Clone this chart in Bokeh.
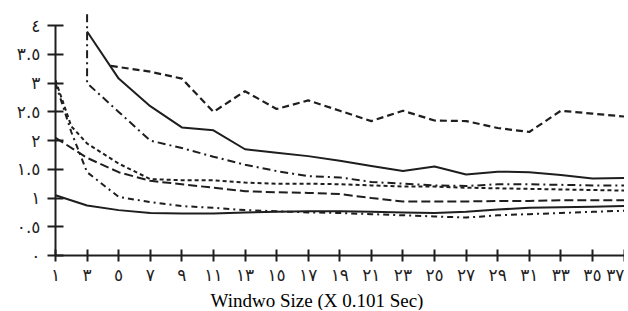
from bokeh.plotting import figure
from bokeh.models import Range1d, FixedTicker, Title
from bokeh.embed import file_html
from bokeh.resources import INLINE

# ---- data ----
x_ticks = [1, 3, 5, 7, 9, 11, 13, 15, 17, 19, 21, 23, 25, 27, 29, 31, 33, 35, 37]
x_labels = ["١", "٣", "٥", "٧", "٩", "١١", "١٣", "١٥", "١٧", "١٩", "٢١", "٢٣",
            "٢٥", "٢٧", "٢٩", "٣١", "٣٣", "٣٥", "٣٧"]
y_ticks = [0, 0.5, 1, 1.5, 2, 2.5, 3, 3.5, 4]
y_labels = ["٠", "٠.٥", "١", "١.٥", "٢", "٢.٥", "٣", "٣.٥", "٤"]
x_title = "Windwo Size (X 0.101 Sec)"

# top dashed series
dash_top_x = [4.5, 7, 9, 11, 13, 15, 17, 19, 21, 23, 25, 27, 29, 31, 33, 35, 37]
dash_top_y = [3.3, 3.2, 3.08, 2.5, 2.86, 2.55, 2.7, 2.52, 2.34, 2.52, 2.35, 2.34,
              2.22, 2.15, 2.52, 2.47, 2.42]

# top solid series
solid_top_x = [3, 5, 7, 9, 11, 13, 15, 17, 19, 21, 23, 25, 27, 29, 31, 33, 35, 37]
solid_top_y = [3.9, 3.08, 2.6, 2.23, 2.18, 1.85, 1.79, 1.73, 1.65, 1.56, 1.47, 1.55,
               1.41, 1.46, 1.45, 1.4, 1.34, 1.35]

# dash-dot series starting at 3
dashdot_x = [3, 3, 5, 7, 9, 11, 13, 15, 17, 19, 21, 23, 25, 27, 29, 31, 33, 35, 37]
dashdot_y = [4.2, 3.0, 2.5, 2.0, 1.87, 1.72, 1.58, 1.47, 1.38, 1.36, 1.28, 1.25,
             1.22, 1.21, 1.24, 1.24, 1.23, 1.22, 1.22]

# short-dash series
short_x = [1, 2, 3, 5, 7, 9, 11, 13, 15, 17, 19, 21, 23, 25, 27, 29, 31, 33, 35, 37]
short_y = [3.05, 2.25, 1.95, 1.6, 1.33, 1.31, 1.31, 1.27, 1.25, 1.25, 1.24, 1.22,
           1.2, 1.2, 1.18, 1.17, 1.16, 1.15, 1.14, 1.13]

# long-dash series
long_x = [1, 3, 5, 7, 9, 11, 13, 15, 17, 19, 21, 23, 25, 27, 29, 31, 33, 35, 37]
long_y = [2.05, 1.7, 1.45, 1.3, 1.24, 1.18, 1.12, 1.1, 1.09, 1.07, 1.0, 0.94, 0.94,
          0.94, 0.95, 0.95, 0.96, 0.96, 0.96]

# lowest dash-dot series
low_dd_x = [1, 2, 3, 5, 7, 9, 11, 13, 15, 17, 19, 21, 23, 25, 27, 29, 31, 33, 35, 37]
low_dd_y = [3.0, 2.15, 1.45, 1.02, 0.93, 0.86, 0.83, 0.79, 0.77, 0.75, 0.74, 0.72,
            0.7, 0.68, 0.66, 0.7, 0.72, 0.74, 0.76, 0.78]

# lower solid series
solid_low_x = [1, 3, 5, 7, 9, 11, 13, 15, 17, 19, 21, 23, 25, 27, 29, 31, 33, 35, 37]
solid_low_y = [1.05, 0.87, 0.79, 0.74, 0.73, 0.73, 0.75, 0.76, 0.77, 0.77, 0.76, 0.75,
               0.74, 0.76, 0.8, 0.83, 0.84, 0.85, 0.86]

INK = "#1e1e1e"

p = figure(width=624, height=310, output_backend="svg", toolbar_location=None,
           x_range=Range1d(1, 37.03), y_range=Range1d(0, 4.3),
           min_border_left=55, min_border_right=0, min_border_top=8,
           min_border_bottom=54)
p.xgrid.visible = False
p.ygrid.visible = False
p.outline_line_color = None
p.background_fill_color = "white"
p.border_fill_color = "white"

p.line(dash_top_x, dash_top_y, line_color=INK, line_width=2.2, line_dash="7 4")
p.line(solid_top_x, solid_top_y, line_color=INK, line_width=2)
p.line(dashdot_x, dashdot_y, line_color=INK, line_width=2, line_dash="8 4 2 4")
p.line(short_x, short_y, line_color=INK, line_width=2, line_dash="4 3")
p.line(long_x, long_y, line_color=INK, line_width=2, line_dash="9 4")
p.line(low_dd_x, low_dd_y, line_color=INK, line_width=2, line_dash="6 4 2 4")
p.line(solid_low_x, solid_low_y, line_color=INK, line_width=2)

for ax in (p.xaxis[0], p.yaxis[0]):
    ax.axis_line_color = INK
    ax.axis_line_width = 2
    ax.major_tick_line_color = INK
    ax.major_tick_line_width = 2
    ax.minor_tick_line_color = None
    ax.major_label_text_font = "DejaVu Sans"
    ax.major_label_text_font_size = "17px"
    ax.major_label_text_color = INK

p.xaxis.ticker = FixedTicker(ticks=x_ticks)
p.xaxis.major_label_overrides = dict(zip(x_ticks, x_labels))
p.xaxis.major_tick_in = 6
p.xaxis.major_tick_out = 6
p.xaxis.major_label_standoff = 3

p.yaxis.ticker = FixedTicker(ticks=y_ticks)
p.yaxis.major_label_overrides = dict(zip(y_ticks, y_labels))
p.yaxis.major_tick_in = 8
p.yaxis.major_tick_out = 8
p.yaxis.major_label_standoff = 7
p.yaxis.bounds = (0, 4)

t = Title(text=x_title, align="left", offset=155,
          text_font="Liberation Serif", text_font_size="19px",
          text_font_style="normal", text_color="black", standoff=0)
p.add_layout(t, "below")

open("out.html", "w").write(file_html(p, INLINE))
